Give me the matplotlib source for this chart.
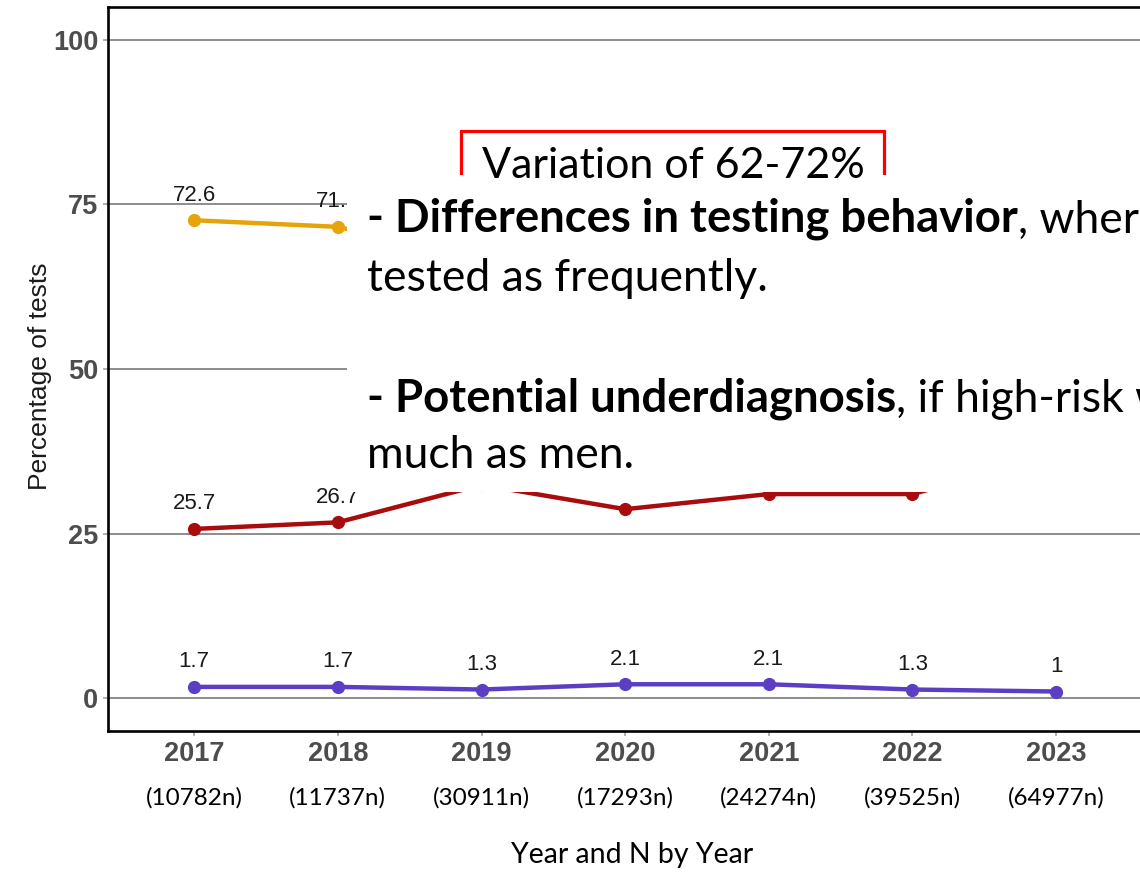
import matplotlib
matplotlib.use("Agg")
import matplotlib.pyplot as plt
import matplotlib.patches as mpatches
from matplotlib import font_manager
from matplotlib.transforms import blended_transform_factory

# -----------------------------------------------------------------------------
# Data (values under the white text box are estimates)
# -----------------------------------------------------------------------------
years      = [2017, 2018, 2019, 2020, 2021, 2022, 2023]
n_by_year  = ["(10782n)", "(11737n)", "(30911n)", "(17293n)", "(24274n)", "(39525n)", "(64977n)"]
pct_yellow = [72.6, 71.6, 66.3, 69.2, 66.9, 67.7, 62.0]
pct_red    = [25.7, 26.7, 32.4, 28.7, 31.0, 31.0, 37.0]
pct_purple = [1.7, 1.7, 1.3, 2.1, 2.1, 1.3, 1.0]
y_ticks    = [0, 25, 50, 75, 100]

series = [
    (pct_yellow, "#E5A50A"),
    (pct_red,    "#A80C0C"),
    (pct_purple, "#5B3EC4"),
]

# -----------------------------------------------------------------------------
# Fonts
# -----------------------------------------------------------------------------
avail = {f.name for f in font_manager.fontManager.ttflist}
narrow = "Liberation Sans Narrow" if "Liberation Sans Narrow" in avail else "Liberation Sans"
slide_font = "Lato" if "Lato" in avail else "DejaVu Sans"

W, H = 1140, 873
fig = plt.figure(figsize=(W / 100, H / 100), dpi=100)
fig.patch.set_facecolor("white")

# axes runs off the right edge of the screenshot
ax = fig.add_axes([108 / W, 1 - 731 / H, (1286 - 108) / W, (731 - 7) / H])
ax.set_xlim(2016.4, 2024.6)
ax.set_ylim(-5, 105)

ax.set_axisbelow(True)
ax.yaxis.grid(True, color="#8c8c8c", lw=1.4)
for sp in ax.spines.values():
    sp.set_color("black")
    sp.set_linewidth(1.9)

for vals, col in series:
    ax.plot(years, vals, color=col, lw=3.2, marker="o", ms=8.5, zorder=3)
    for x, v in zip(years, vals):
        ax.annotate(f"{v:g}", xy=(x, v), xytext=(0, 18), textcoords="offset points",
                    ha="center", va="center", fontsize=16, family=narrow,
                    color="#1a1a1a", zorder=4)

ax.set_xticks(years)
ax.set_xticklabels([str(y) for y in years])
ax.set_yticks(y_ticks)
ax.set_yticklabels([str(t) for t in y_ticks])
for lab in ax.get_xticklabels() + ax.get_yticklabels():
    lab.set_family(narrow)
    lab.set_fontweight("bold")
    lab.set_fontsize(19.5)
    lab.set_color("#4D4D4D")
ax.tick_params(axis="both", length=3.6, width=1.1, color="#9a9a9a", pad=3.5)

fig.text(40 / W, 1 - 376 / H, "Percentage of tests", rotation=90, ha="center",
         va="center", fontsize=19, family="Liberation Sans", color="#1a1a1a")

# N per year under the year ticks (slide text)
trans = blended_transform_factory(ax.transData, fig.transFigure)
for x, s in zip(years, n_by_year):
    ax.text(x, 1 - 798 / H, s, transform=trans, ha="center", va="center",
            fontsize=17.5, family=slide_font, color="black", clip_on=False)
fig.text(632 / W, 1 - 855 / H, "Year and N by Year", ha="center", va="center",
         fontsize=20.5, family=slide_font, color="black")

# -----------------------------------------------------------------------------
# Overlaid slide text boxes
# -----------------------------------------------------------------------------
red_box = mpatches.Rectangle((461 / W, 1 - 200 / H), 423 / W, 69 / H,
                             transform=fig.transFigure, facecolor="white",
                             edgecolor="#FF0000", lw=2.3, zorder=9)
fig.add_artist(red_box)
white_box = mpatches.Rectangle((347 / W, 1 - 492 / H), 0.75, 317 / H,
                               transform=fig.transFigure, facecolor="white",
                               edgecolor="none", zorder=10)
fig.add_artist(white_box)

fs_bold = 32.8
fs_reg = 32
fig.text(482 / W, 1 - 178 / H, "Variation of 62-72%", ha="left", va="baseline",
         fontsize=31, family=slide_font, zorder=12)

b1 = fig.text(367 / W, 1 - 232 / H, "- Differences in testing behavior", ha="left",
              va="baseline", fontsize=fs_bold, family=slide_font, fontweight="bold", zorder=12)
fig.text(367 / W, 1 - 291 / H, "tested as frequently.", ha="left", va="baseline",
         fontsize=fs_reg, family=slide_font, zorder=12)
b2 = fig.text(367 / W, 1 - 411 / H, "- Potential underdiagnosis", ha="left",
              va="baseline", fontsize=fs_bold, family=slide_font, fontweight="bold", zorder=12)
fig.text(367 / W, 1 - 468 / H, "much as men.", ha="left", va="baseline",
         fontsize=fs_reg, family=slide_font, zorder=12)

# regular text continuing right after the bold part
for bold_txt, rest in [(b1, ", where women are not"), (b2, ", if high-risk women")]:
    fig.add_artist(matplotlib.text.Annotation(
        rest, xy=(1, 0), xycoords=bold_txt, ha="left", va="bottom",
        fontsize=fs_reg, family=slide_font, zorder=12))

fig.savefig("out.png", dpi=100)
